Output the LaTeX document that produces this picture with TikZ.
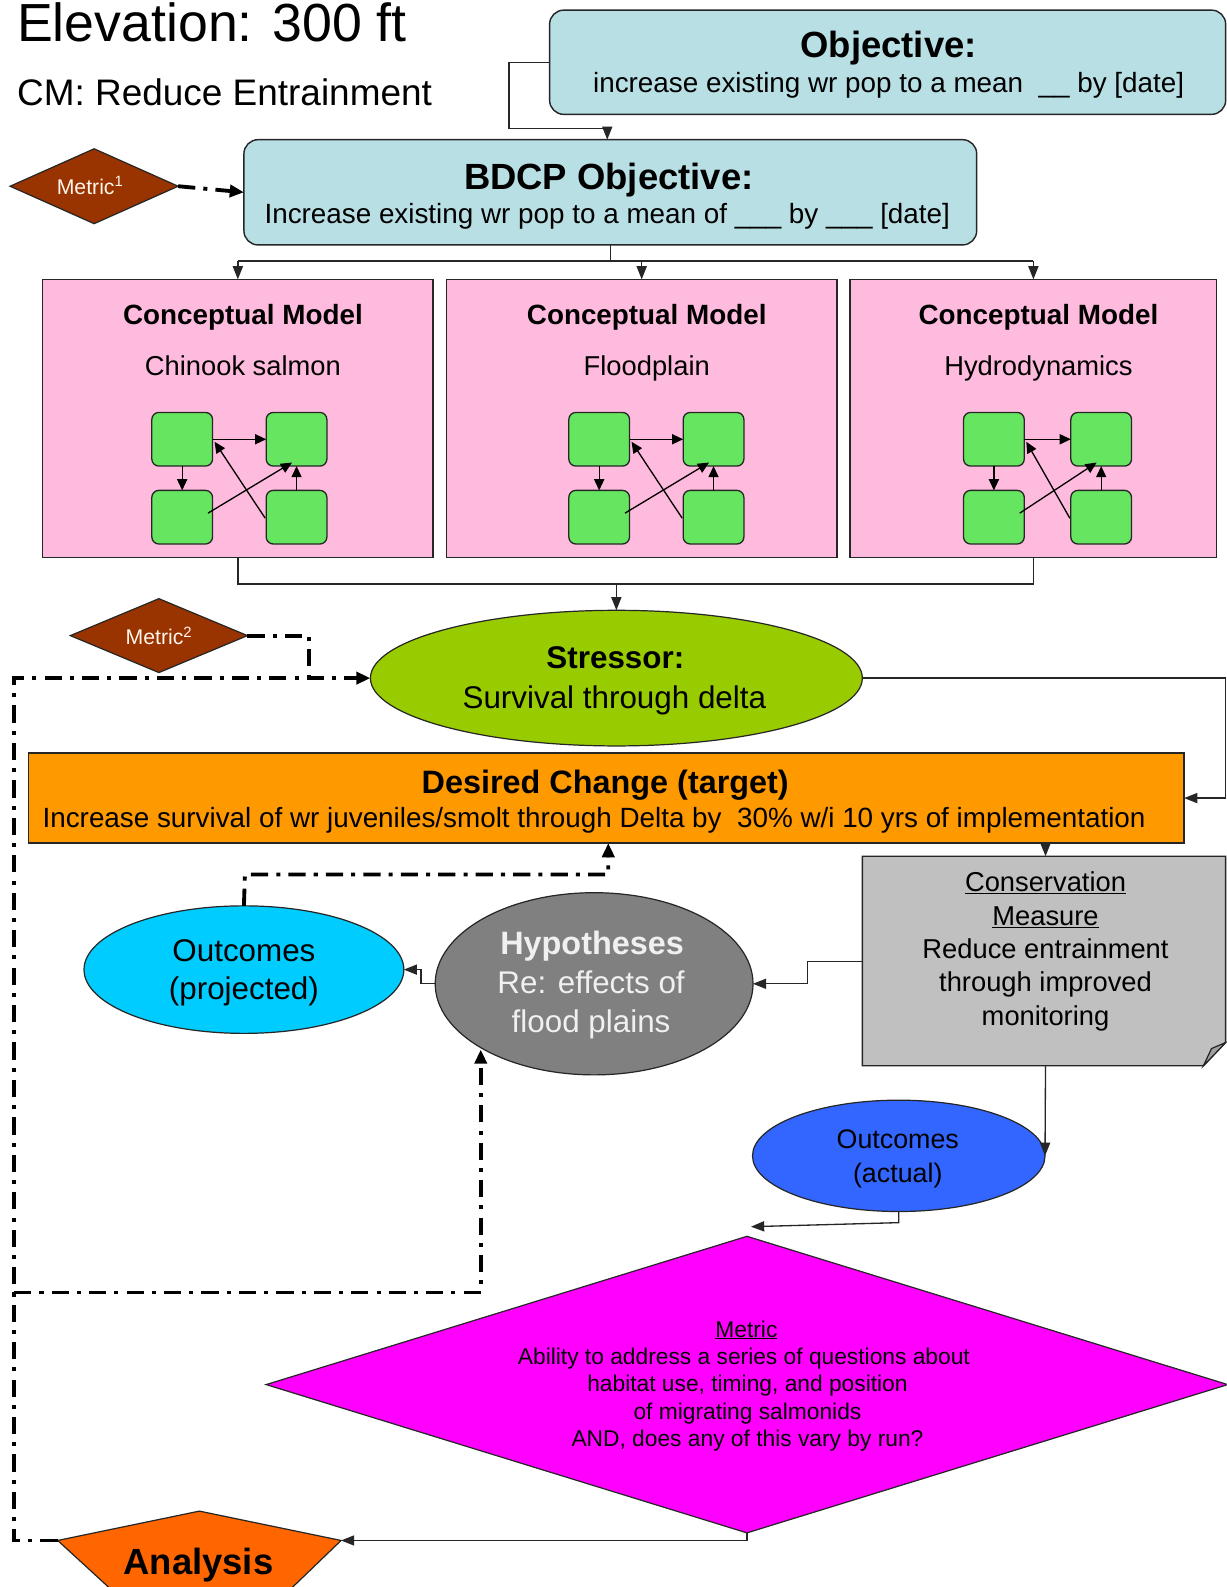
\documentclass[tikz,border=0pt]{standalone}
\usepackage{fontspec}
\setmainfont{Liberation Sans}
\usetikzlibrary{shapes.geometric,arrows.meta}
\definecolor{objblue}{HTML}{B8DFE4}
\definecolor{cmpink}{HTML}{FFBBDD}
\definecolor{minigreen}{HTML}{66E660}
\definecolor{metbrown}{HTML}{993300}
\definecolor{strgreen}{HTML}{99CC00}
\definecolor{desorange}{HTML}{FF9900}
\definecolor{consgray}{HTML}{C0C0C0}
\definecolor{foldgray}{HTML}{A0A0A0}
\definecolor{hypgray}{HTML}{808080}
\definecolor{outcyan}{HTML}{00CCFF}
\definecolor{outblue}{HTML}{3366FF}
\definecolor{metmag}{HTML}{FF00FF}
\definecolor{anorange}{HTML}{FF6600}
\definecolor{edgec}{HTML}{262626}
\newcommand{\myfs}[1]{\fontsize{#1}{#1}\selectfont}
\begin{document}
\begin{tikzpicture}[x=1pt,y=-1pt,
 every node/.style={inner sep=0pt, outer sep=0pt},
 conn/.style={line width=1.3pt, draw=edgec},
 arr/.style={conn, -{Triangle[length=13pt,width=10pt]}},
 dd/.style={line width=3.8pt, draw=black, dash pattern=on 17pt off 8pt on 4pt off 8pt},
 ddarr/.style={dd, -{Triangle[length=14pt,width=12pt]}},
 rbox/.style={draw=edgec, line width=1.4pt, rounded corners=14pt, fill=objblue},
 cmbox/.style={draw=edgec, line width=1.4pt, fill=cmpink},
 minibox/.style={draw=edgec, line width=1.3pt, rounded corners=7pt, fill=minigreen, minimum width=60, minimum height=53},
 miniarr/.style={line width=1.3pt, draw=black, -{Triangle[length=11pt,width=10pt]}},
 ell/.style={ellipse, draw=edgec, line width=1.2pt},
 dia/.style={diamond, draw=edgec, line width=1.2pt},
 txt/.style={anchor=base, text=black},
]
\clip (0,0) rectangle (1212,1568);
\fill[white] (0,0) rectangle (1212,1568);

% titles
\node[anchor=base west, font=\myfs{53}] (elev) at (17,41) {Elevation: 300 ft};
\node[anchor=base west, font=\myfs{36.5}] (cmtitle) at (17,104) {CM: Reduce Entrainment};

% objective boxes
\node[rbox, minimum width=668, minimum height=103] (obj) at (877,61.5) {};
\node[txt, font=\myfs{36}\bfseries] at (878,57) {Objective:};
\node[txt, font=\myfs{27.5}] at (878,91) {increase existing wr pop to a mean\ \ \_\_ by [date]};

\node[rbox, minimum width=724, minimum height=104] (bdcp) at (603,190) {};
\node[txt, font=\myfs{36}\bfseries] at (601.5,187) {BDCP Objective:};
\node[txt, font=\myfs{27.5}] at (600,221) {Increase existing wr pop to a mean of \_\_\_ by \_\_\_ [date]};

% metric 1
\node[dia, fill=metbrown, minimum width=166, minimum height=74] (m1) at (93,184) {};
\node[txt, font=\myfs{21}, text=white!92!orange] at (89,192) {Metric\textsuperscript{1}};

% conceptual models
\node[cmbox, minimum width=386, minimum height=275] (cm1) at (235,413.5) {};
\node[cmbox, minimum width=386, minimum height=275] (cm2) at (634,413.5) {};
\node[cmbox, minimum width=362, minimum height=275] (cm3) at (1021,413.5) {};
\foreach \c/\s in {240/Chinook salmon, 639/Floodplain, 1026/Hydrodynamics} {
  \node[txt, font=\myfs{27.5}\bfseries] at (\c,321) {Conceptual Model};
  \node[txt, font=\myfs{27}] at (\c,371) {\s};
}
\foreach \i/\x/\d in {1/180/113, 2/592/113, 3/982/106} {
  \node[minibox] (tl\i) at (\x,434) {};
  \node[minibox] (tr\i) at (\x+\d,434) {};
  \node[minibox] (bl\i) at (\x,511) {};
  \node[minibox] (br\i) at (\x+\d,511) {};
  \draw[miniarr] (tl\i) -- (tr\i);
  \draw[miniarr] (tl\i) -- (bl\i);
  \draw[miniarr] (br\i) -- (tr\i);
  \draw[miniarr] ([xshift=25.5pt,yshift=4pt]bl\i.center) -- ([xshift=-4.5pt,yshift=-23pt]tr\i.center);
  \draw[miniarr] ([xshift=-31pt,yshift=-1pt]br\i.center) -- ([xshift=32pt,yshift=-2.5pt]tl\i.center);
}

% metric 2
\node[dia, fill=metbrown, minimum width=175, minimum height=73] (m2) at (157,628) {};
\node[txt, font=\myfs{21}, text=white!92!orange] at (157,637) {Metric\textsuperscript{2}};

% stressor
\node[ell, fill=strgreen, minimum width=486, minimum height=134] (str) at (609,670) {};
\node[txt, font=\myfs{31}\bfseries] at (608,660) {Stressor:};
\node[txt, font=\myfs{31}] at (607,700) {Survival through delta};

% desired change
\node[draw=edgec, line width=1.4pt, fill=desorange, minimum width=1142, minimum height=89] (des) at (599,788.5) {};
\node[txt, font=\myfs{32}\bfseries] at (598,784) {Desired Change (target)};
\node[txt, font=\myfs{27.5}] at (587,818) {Increase survival of wr juveniles/smolt through Delta by\ \ 30\% w/i 10 yrs of implementation};

% conservation measure
\filldraw[fill=consgray, draw=edgec, line width=1.4pt] (852,846) -- (1211,846) -- (1211,1030) -- (1189,1053) -- (852,1053) -- cycle;
\filldraw[fill=foldgray, draw=edgec, line width=1.2pt] (1189,1053) -- (1197,1036) -- (1211,1030) -- cycle;
\node[minimum width=359, minimum height=207] (cons) at (1031.5,949.5) {};
\node[txt, font=\myfs{27}] at (1033,881) {\underline{Conservation}};
\node[txt, font=\myfs{27}] at (1033,914) {\underline{Measure}};
\node[txt, font=\myfs{27}] at (1033,947) {Reduce entrainment};
\node[txt, font=\myfs{27}] at (1033,980) {through improved};
\node[txt, font=\myfs{27}] at (1033,1013) {monitoring};

% hypotheses
\node[ell, fill=hypgray, minimum width=314, minimum height=180] (hyp) at (587,972) {};
\node[txt, font=\myfs{32}\bfseries, text=white!94!black] at (585,943) {Hypotheses};
\node[txt, font=\myfs{31}, text=white!94!black] at (584,982) {Re: effects of};
\node[txt, font=\myfs{31}, text=white!94!black] at (584,1020) {flood plains};

% outcomes projected
\node[ell, fill=outcyan, minimum width=316, minimum height=126] (oproj) at (241,958) {};
\node[txt, font=\myfs{31}] at (241,950) {Outcomes};
\node[txt, font=\myfs{31}] at (241,988) {(projected)};

% outcomes actual
\node[ell, fill=outblue, minimum width=289, minimum height=110] (oact) at (888,1142) {};
\node[txt, font=\myfs{26.5}] at (887,1135) {Outcomes};
\node[txt, font=\myfs{26.5}] at (887,1168) {(actual)};

% metric diamond
\node[dia, fill=metmag, minimum width=950, minimum height=293] (metric) at (738,1368) {};
\node[txt, font=\myfs{22.5}] at (737.5,1321) {\underline{Metric}};
\node[txt, font=\myfs{22.5}] at (735,1348) {Ability to address a series of questions about};
\node[txt, font=\myfs{22.5}] at (738.5,1375) {habitat use, timing, and position};
\node[txt, font=\myfs{22.5}] at (738.5,1402) {of migrating salmonids};
\node[txt, font=\myfs{22.5}] at (738.5,1429) {AND, does any of this vary by run?};

% analysis
\filldraw[fill=anorange, draw=edgec, line width=1.2pt] (57,1522) -- (197,1493) -- (337,1522) -- (256,1600) -- (142,1600) -- cycle;
\coordinate (anL) at (57,1522);
\coordinate (anR) at (337,1522);
\node[txt, font=\myfs{36}\bfseries] (an) at (196,1556) {Analysis};

% ---- connectors ----
\draw[arr] (obj.west) -- (503,61.5) -- (503,127) -- (600,127) -- (600,138);
\draw[ddarr] (m1.east) -- (bdcp.west);
\draw[conn] (bdcp.south) -- (603,258);
\draw[conn] (235,258) -- (1021,258);
\draw[arr] (235,258) -- (cm1.north);
\draw[arr] (634,258) -- (cm2.north);
\draw[arr] (1021,258) -- (cm3.north);
\draw[conn] (cm1.south) -- (235,577) -- (1021,577) -- (cm3.south);
\draw[arr] (609,577) -- (str.north);
\draw[dd] (m2.east) -- (305,628) -- (305,668);
\draw[ddarr] (anL) -- (14,1522) -- (14,670) -- (str.west);
\draw[ddarr] (14,1277) -- (475,1277) -- (475,1037);
\draw[ddarr] (oproj.north) -- (242,864) -- (601,864) -- (601,833);
\draw[arr] (str.east) -- (1211,670) -- (1211,788.5) -- (des.east);
\draw[arr] (1033,833) -- (1033,846);
\draw[arr] (852,950) -- (798,950) -- (798,972) -- (hyp.east);
\draw[arr] (hyp.west) -- (416,972) -- (416,958) -- (oproj.east);
\draw[arr] (1033,1053) -- (oact.east);
\draw[arr] (oact.south) -- (888,1208) -- (742,1212);
\draw[arr] (metric.south) -- (738,1522) -- (anR);
\end{tikzpicture}
\end{document}
